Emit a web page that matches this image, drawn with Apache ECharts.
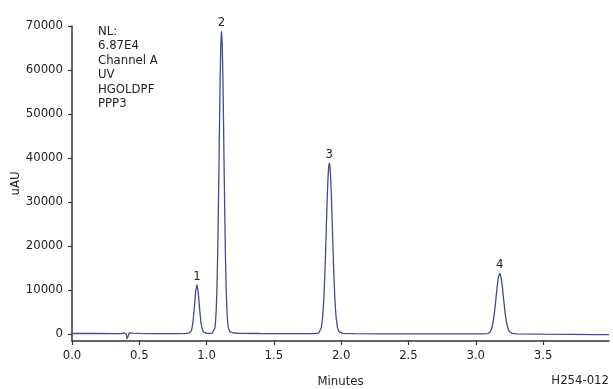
<!DOCTYPE html>
<html>
<head>
<meta charset="utf-8">
<script src="https://cdn.jsdelivr.net/npm/echarts@6/dist/echarts.min.js"></script>
<style>
html,body{margin:0;padding:0;background:#fff;}
#chart{width:613px;height:389px;}
</style>
</head>
<body>
<div id="chart"></div>
<script>
// Retention time (minutes)
const times = [
  0.00, 0.10, 0.20, 0.30, 0.37, 0.385, 0.395, 0.402, 0.41, 0.418, 0.425, 0.435, 0.45, 0.50, 0.60, 0.70, 0.80, 0.85,
  0.868, 0.878, 0.888, 0.898, 0.908, 0.918, 0.928, 0.938, 0.948, 0.958, 0.968, 0.978, 0.99, 1.00, 1.02,
  1.041, 1.051, 1.061, 1.066, 1.071, 1.076, 1.081, 1.086, 1.091, 1.096, 1.101, 1.106, 1.111, 1.116, 1.121, 1.126,
  1.131, 1.136, 1.141, 1.146, 1.151, 1.156, 1.161, 1.171, 1.181, 1.20, 1.25, 1.40, 1.60, 1.80,
  1.832, 1.842, 1.852, 1.862, 1.867, 1.872, 1.877, 1.882, 1.887, 1.892, 1.897, 1.902, 1.907, 1.912, 1.917, 1.922,
  1.927, 1.932, 1.937, 1.942, 1.947, 1.952, 1.957, 1.962, 1.972, 1.982, 1.992, 2.01, 2.10, 2.30, 2.50, 2.70, 2.90, 3.05,
  3.088, 3.098, 3.108, 3.118, 3.128, 3.138, 3.148, 3.158, 3.168, 3.178, 3.188, 3.198, 3.208, 3.218, 3.228, 3.238,
  3.248, 3.258, 3.27, 3.30, 3.50, 3.70, 3.90, 3.99
];
// Detector signal (uAU)
const signal = [
  100, 100, 100, 80, 80, 250, 350, 0, -1100, -400, 250, 350, 200, 120, 80, 60, 80, 120,
  170, 280, 800, 2440, 5660, 9440, 11200, 9500, 5750, 2600, 1000, 420, 220, 150, 150,
  150, 290, 1260, 2620, 5150, 9400, 15900, 24900, 35900, 47700, 58500, 66100, 68800, 66100, 58600, 47900,
  36100, 25200, 16200, 9700, 5450, 2900, 1500, 550, 320, 220, 150, 100, 80, 80,
  170, 460, 1370, 3730, 5800, 8630, 12280, 16650, 21580, 26680, 31480, 35380, 37980, 38880, 38000, 35420,
  31550, 26780, 21700, 16800, 12450, 8800, 5950, 3900, 1500, 600, 280, 150, 80, 30, 0, 0, 0, 20,
  60, 180, 490, 1180, 2500, 4620, 7450, 10500, 12890, 13810, 12950, 10600, 7600, 4800, 2700, 1350,
  620, 280, 120, 40, -50, -100, -150, -150
];
// Peak labels
const peakNames = ['1', '2', '3', '4'];
const peakTimes = [0.928, 1.111, 1.912, 3.178];
const peakHeights = [11200, 68800, 38880, 13810];
// Tick labels
const xTicks = [0, 0.5, 1.0, 1.5, 2.0, 2.5, 3.0, 3.5];
const yTicks = [0, 10000, 20000, 30000, 40000, 50000, 60000, 70000];
const infoLines = ['NL:', '6.87E4', 'Channel A', 'UV', 'HGOLDPF', 'PPP3'];
const figureId = 'H254-012';

const FONT = "'DejaVu Sans Condensed', 'Liberation Sans Narrow', sans-serif";
const FS = 13;
const TXT = '#222';
const AX = '#333';

const chart = echarts.init(document.getElementById('chart'), null, {renderer: 'canvas'});
chart.setOption({
  animation: false,
  backgroundColor: '#fff',
  grid: {left: 72, right: 4, top: 26, bottom: 48, containLabel: false, outerBoundsMode: 'none'},
  xAxis: {
    type: 'value', min: 0, max: 3.99,
    name: 'Minutes', nameLocation: 'middle', nameGap: 34, nameMoveOverlap: false,
    nameTextStyle: {fontFamily: FONT, fontSize: FS, color: TXT},
    axisLine: {show: true, onZero: false, lineStyle: {color: AX, width: 1.5}},
    axisTick: {show: true, length: 4, customValues: xTicks, lineStyle: {color: AX, width: 1.2}},
    axisLabel: {customValues: xTicks, margin: 8, fontFamily: FONT, fontSize: FS, color: TXT,
      formatter: v => v.toFixed(1)},
    splitLine: {show: false}
  },
  yAxis: {
    type: 'value', min: -1600, max: 70000,
    name: 'uAU', nameLocation: 'middle', nameGap: 50, nameMoveOverlap: false,
    nameTextStyle: {fontFamily: FONT, fontSize: FS, color: TXT},
    axisLine: {show: true, onZero: false, lineStyle: {color: AX, width: 1.5}},
    axisTick: {show: true, length: 4, customValues: yTicks, lineStyle: {color: AX, width: 1.2}},
    axisLabel: {customValues: yTicks, margin: 9, fontFamily: FONT, fontSize: FS, color: TXT,
      formatter: v => String(v)},
    splitLine: {show: false}
  },
  series: [
    {
      type: 'line',
      data: times.map((t, i) => [t, signal[i]]),
      showSymbol: false, smooth: false,
      lineStyle: {color: '#454a8f', width: 1.3},
      silent: true
    },
    {
      type: 'scatter',
      data: peakTimes.map((t, i) => ({name: peakNames[i], value: [t, peakHeights[i]]})),
      symbolSize: 0,
      itemStyle: {opacity: 1},
      label: {show: true, position: 'top', distance: 2, formatter: p => p.name,
        fontFamily: FONT, fontSize: FS, color: TXT},
      silent: true
    }
  ],
  graphic: [
    {type: 'text', left: 98, top: 24,
      style: {text: infoLines.join('\n'), font: FS + 'px ' + FONT, fill: TXT, lineHeight: 14.5}},
    {type: 'text', right: 4, top: 374,
      style: {text: figureId, font: FS + 'px ' + FONT, fill: TXT}}
  ]
});
</script>
</body>
</html>
